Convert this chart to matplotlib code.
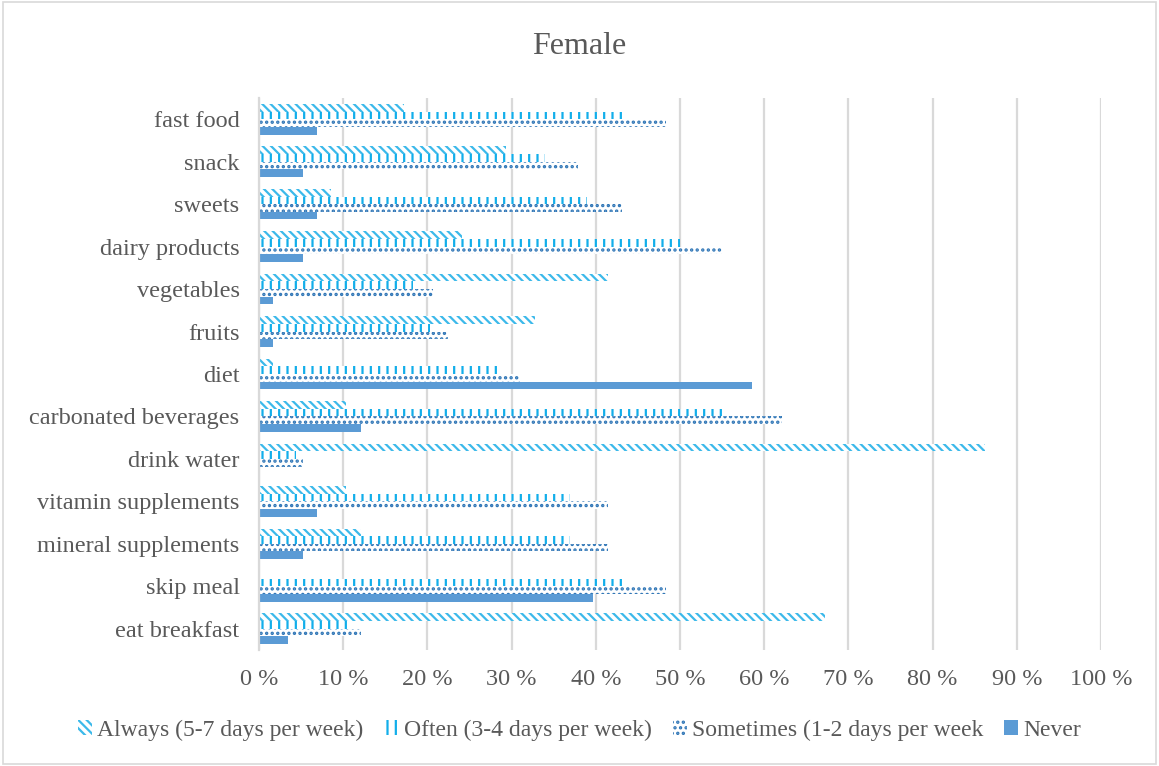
import numpy as np
import matplotlib.pyplot as plt
from matplotlib.patches import Rectangle
from matplotlib.ticker import FuncFormatter

plt.rcParams.update({
    'font.family': ['Liberation Serif', 'DejaVu Serif'],
    'hatch.linewidth': 1.6,
})

categories = ['fast food', 'snack', 'sweets', 'dairy products', 'vegetables', 'fruits',
              'diet', 'carbonated beverages', 'drink water', 'vitamin supplements',
              'mineral supplements', 'skip meal', 'eat breakfast']

series_names = ['Always (5-7 days per week)', 'Often (3-4 days per week)',
                'Sometimes (1-2 days per week', 'Never']

always = [17.2, 29.3, 8.6, 24.1, 41.4, 32.8, 1.7, 10.3, 86.2, 10.3, 12.1, 0.0, 67.2]
often = [43.4, 34.0, 39.0, 50.0, 18.3, 20.3, 28.3, 55.6, 4.4, 36.9, 36.9, 43.4, 10.8]
sometimes = [48.3, 37.9, 43.1, 55.0, 20.7, 22.4, 31.0, 62.1, 5.2, 41.4, 41.4, 48.3, 12.1]
never = [6.9, 5.2, 6.9, 5.2, 1.7, 1.7, 58.6, 12.1, 0.0, 6.9, 5.2, 39.7, 3.4]

x_ticks = np.arange(0, 101, 10)

text_col = '#595959'
grid_col = '#D9D9D9'

# hatch pattern and colour per series
styles = [
    dict(hatch='\\\\\\\\', edgecolor='#3CB9EA'),
    dict(hatch='||', edgecolor='#12AEEA'),
    dict(hatch='...', edgecolor='#2E75B6'),
    dict(hatch=None, edgecolor='#5B9BD5'),
]

fig = plt.figure(figsize=(11.59, 7.66), dpi=100)
ax = fig.add_axes([259 / 1159, 1 - 650 / 766, (1101 - 259) / 1159, (650 - 98) / 766])

y = np.arange(len(categories))
h = 0.18
offsets = np.array([-1.5, -0.5, 0.5, 1.5]) * h

for vals, name, off, st in zip([always, often, sometimes, never], series_names, offsets, styles):
    if st['hatch'] is None:
        ax.barh(y + off, vals, height=h, color=st['edgecolor'], linewidth=0, label=name)
    else:
        ax.barh(y + off, vals, height=h, facecolor='white', edgecolor=st['edgecolor'],
                hatch=st['hatch'], linewidth=0, label=name)

ax.set_ylim(len(categories) - 0.5, -0.5)
ax.set_xlim(0, 100)
ax.set_yticks(y)
ax.set_yticklabels(categories)
ax.set_xticks(x_ticks)
ax.xaxis.set_major_formatter(FuncFormatter(lambda v, p: f'{v:.0f} %'))
ax.tick_params(axis='both', length=0, labelsize=17.5, colors=text_col, pad=14)

ax.grid(axis='x', color=grid_col, linewidth=1.6)
ax.set_axisbelow(True)
for s in ['top', 'right', 'bottom']:
    ax.spines[s].set_visible(False)
ax.spines['left'].set_color(grid_col)
ax.spines['left'].set_linewidth(1.6)

fig.text(0.5, 1 - 47 / 766, 'Female', ha='center', va='center', fontsize=23, color=text_col)

fig.legend(loc='center', bbox_to_anchor=(0.5, 1 - 730 / 766), ncol=4, frameon=False,
           fontsize=17, handlelength=0.6, handleheight=0.6, handletextpad=0.2,
           columnspacing=0.9, labelcolor=text_col)

# light frame around the chart area
fig.patches.append(Rectangle((0.003, 0.003), 0.994, 0.994, transform=fig.transFigure,
                             fill=False, edgecolor=grid_col, linewidth=1.2))

fig.savefig('out.png', dpi=100, facecolor='white')
